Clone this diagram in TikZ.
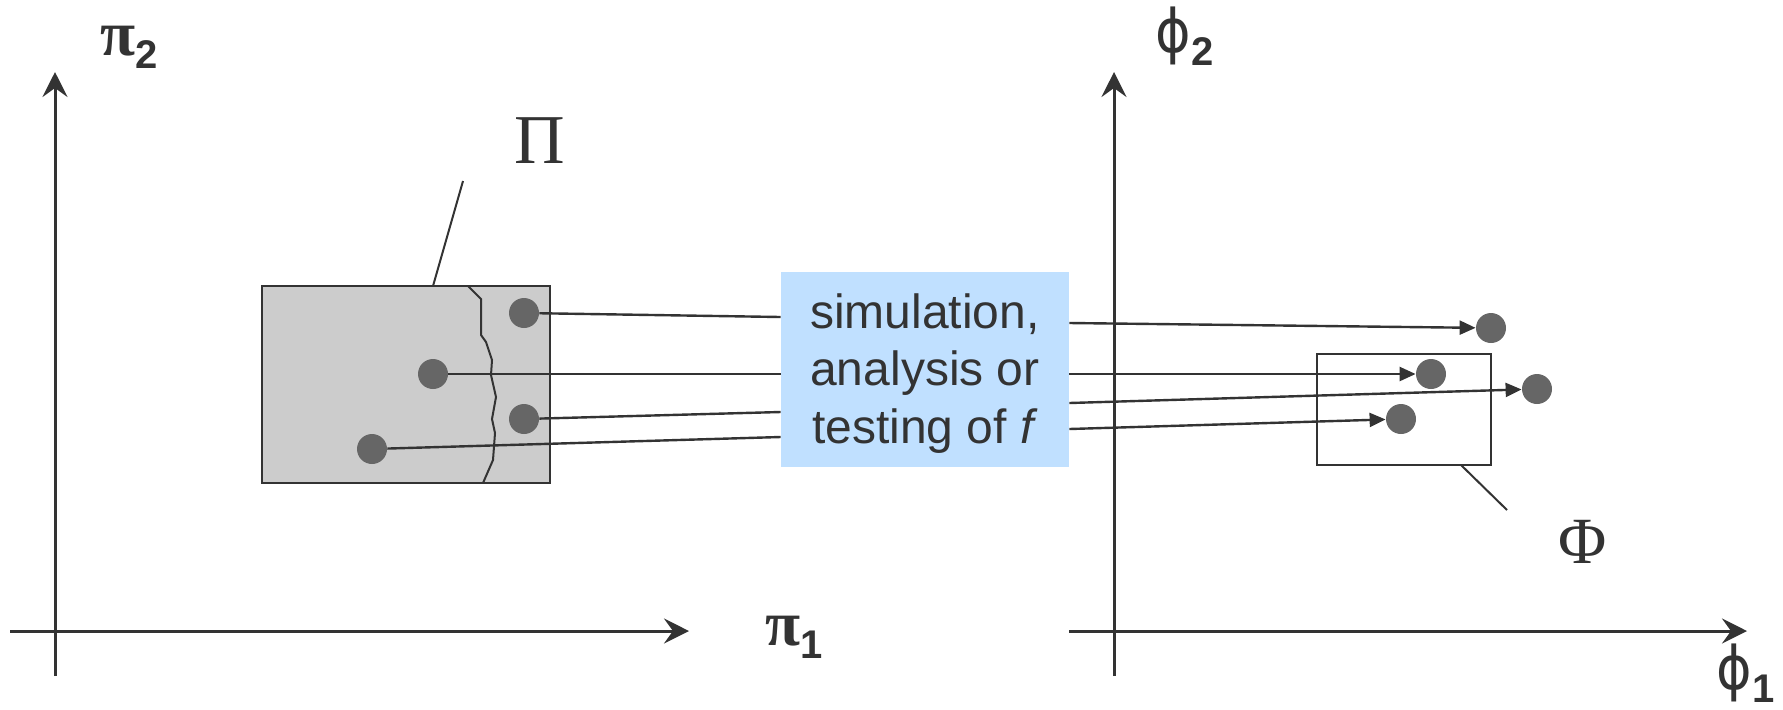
\documentclass[tikz,border=0pt]{standalone}
\usepackage{fontspec}
\setmainfont{Liberation Sans}
\newfontfamily\grserif{Liberation Serif}
\newfontfamily\grsans{DejaVu Sans}
\usepackage{xcolor}
\usepackage{tikz}
\usetikzlibrary{arrows.meta,positioning}
\definecolor{ink}{HTML}{333333}
\definecolor{dotgray}{HTML}{666666}
\definecolor{regiongray}{HTML}{CCCCCC}
\definecolor{boxblue}{HTML}{C0E0FF}
\newcommand{\axlab}[2]{{\color{ink}#1{\bfseries\fontsize{20}{20}\selectfont\raisebox{-6.5pt}{#2}}}}
\newcommand{\phisym}{{\grsans\fontsize{30}{30}\selectfont\scalebox{0.9}[1]{ϕ}}}

\begin{document}
\begin{tikzpicture}[x=0.5pt,y=-0.5pt,
axis/.style={ink,line width=1.5pt,-{Stealth[length=12.5pt,width=12.5pt,inset=4.5pt]}},
dot/.style={circle,fill=dotgray,minimum size=15pt,inner sep=0pt},
map/.style={ink,line width=1.2pt},
hit/.style={map,-{Triangle[length=8pt,width=7pt]}},
simbox/.style={fill=boxblue,text=ink,align=center,minimum width=144pt,minimum height=97.5pt,inner sep=0pt,font=\fontsize{24}{28.75}\selectfont}]
\useasboundingbox(0,0)rectangle(1783,709);
% axes
\draw[axis](55,676)--(55,72);
\draw[axis](10,631)--(689,631);
\draw[axis](1114,676)--(1114,72);
\draw[axis](1069,631)--(1747,631);
\node[anchor=base west,inner sep=0](pi2)at(100,55){\axlab{{\grserif\bfseries\fontsize{32}{32}\selectfont π}}{2}};
\node[anchor=base west,inner sep=0](pi1)at(765,645){\axlab{{\grserif\bfseries\fontsize{32}{32}\selectfont π}}{1}};
\node[anchor=base west,inner sep=0](phi2)at(1155,52){\axlab{\phisym}{2}};
\node[anchor=base west,inner sep=0](phi1)at(1716,689){\axlab{\phisym}{1}};
% input region
\draw[ink,fill=regiongray,line width=1pt](262,286)rectangle(550,483);
\draw[ink,line width=1pt](468,286)--(481,299)--(481,335)--(486,342)--(492,360)--(491,375)--(496,397)--(492,419)--(495,433)--(493,460)--(483,483);
\node[anchor=base west,inner sep=0,text=ink,font=\grserif\fontsize{35}{35}\selectfont](Pi)at(514,163){Π};
\coordinate(pileg)at(463,181);
\draw[ink,line width=1pt](pileg)--(433,286);
% output region
\draw[ink,line width=1pt](1317,354)rectangle(1491,465);
\node[anchor=base west,inner sep=0,text=ink,font=\grserif\fontsize{33}{33}\selectfont](Phi)at(1558,563){Φ};
\coordinate(phileg)at(1507,510);
\draw[ink,line width=1pt](1461,465)--(phileg);
% mapping
\node[simbox](sim)at(925,369.5){\rule{0pt}{21pt}simulation,\\analysis or\\testing of \textit{f}};
\node[dot](p1)at(524,313){};
\node[dot](p2)at(433,374){};
\node[dot](p3)at(524,419){};
\node[dot](p4)at(372,449){};
\node[dot](q1)at(1491,328){};
\node[dot](q2)at(1431,374){};
\node[dot](q3)at(1537,389){};
\node[dot](q4)at(1401,419){};
\draw[map](p1)--(sim.west|-0,317);
\draw[map](p2)--(sim.west|-0,374);
\draw[map](p3)--(sim.west|-0,412);
\draw[map](p4)--(sim.west|-0,437);
\draw[hit](sim.east|-0,323)--(q1);
\draw[hit](sim.east|-0,374)--(q2);
\draw[hit](sim.east|-0,403)--(q3);
\draw[hit](sim.east|-0,429)--(q4);
\end{tikzpicture}
\end{document}
